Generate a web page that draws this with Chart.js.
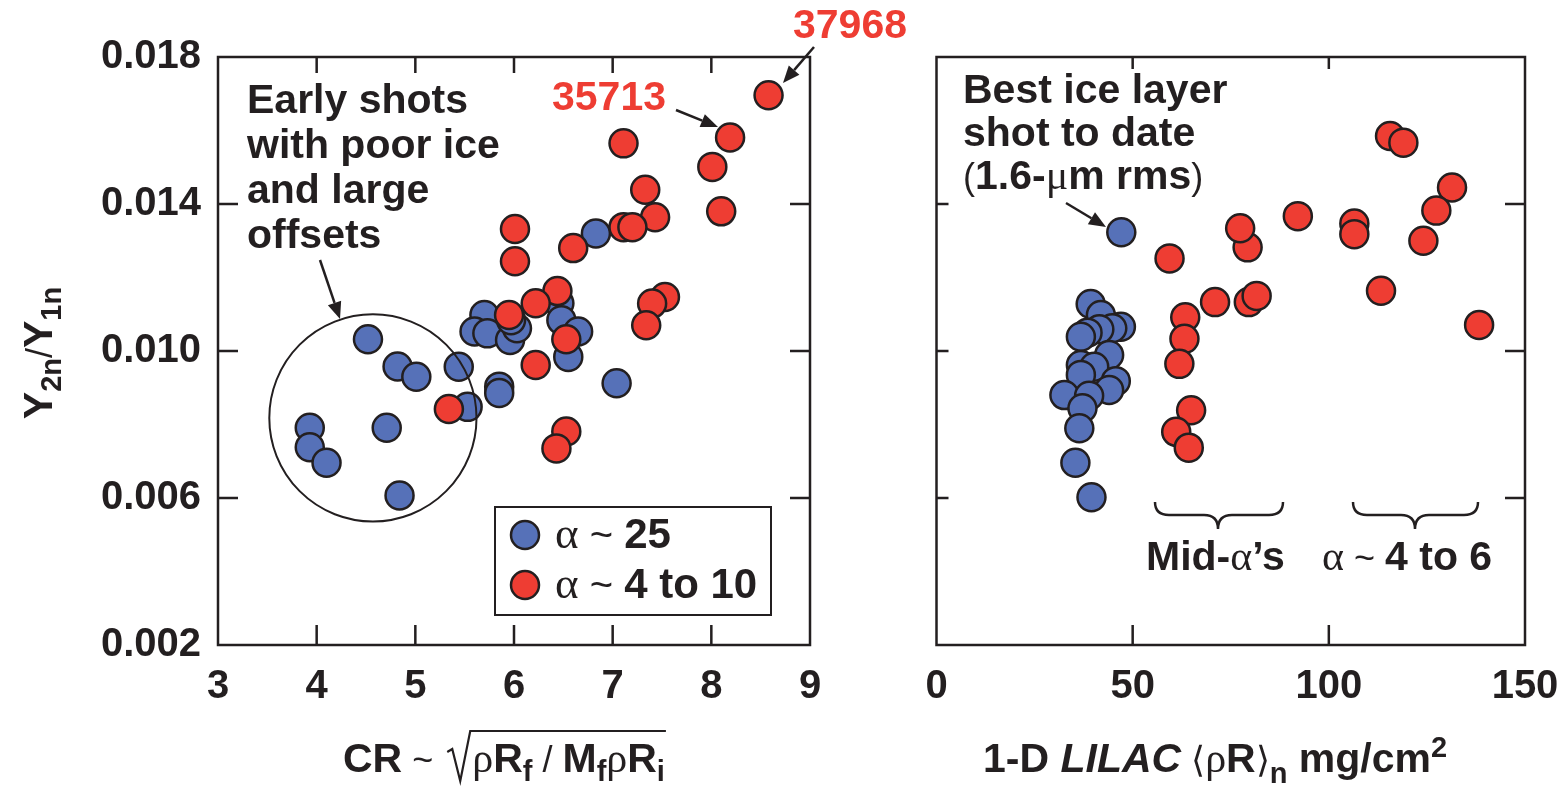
<!DOCTYPE html>
<html lang="en">
<head>
<meta charset="UTF-8">
<title>Y2n/Y1n vs CR and LILAC rhoR</title>
<script src="https://cdn.jsdelivr.net/npm/chart.js"></script>
<style>
  body { margin: 0; background: #fff; width: 1566px; height: 786px; position: relative; overflow: hidden; }
  canvas { position: absolute; top: 0; }
  #left { left: 0; }
  #right { left: 920px; }
</style>
</head>
<body>
<canvas id="left" width="920" height="786"></canvas>
<canvas id="right" width="646" height="786"></canvas>
<script>
/*** DATA ***/
// left panel: convergence ratio
const crBlue = [4.52, 4.82, 5.01, 5.44, 3.93, 3.93, 4.10, 4.71, 4.84, 5.53, 5.85, 5.85, 7.04,
                5.70, 5.60, 5.73, 5.96, 6.03, 5.97, 6.46, 6.48, 6.65, 6.55, 6.83];
const ratioBlueL = [0.01032, 0.00958, 0.00930, 0.00957, 0.00791, 0.00738, 0.00696, 0.00791, 0.00607, 0.00848, 0.00903, 0.00886, 0.00912,
                    0.01098, 0.01053, 0.01048, 0.01030, 0.01062, 0.01084, 0.01130, 0.01084, 0.01053, 0.00984, 0.01320];
const crRed = [8.58, 8.19, 7.11, 8.01, 7.33, 8.10, 7.43, 7.11, 7.20, 6.60, 6.01, 6.01,
               6.44, 6.22, 7.53, 7.40, 7.34, 5.95, 5.34, 6.22, 6.53, 6.53, 6.43];
const ratioRedL = [0.01696, 0.01581, 0.01565, 0.01501, 0.01439, 0.01380, 0.01364, 0.01337, 0.01337, 0.01280, 0.01332, 0.01244,
                   0.01163, 0.01130, 0.01147, 0.01129, 0.01070, 0.01098, 0.00842, 0.00962, 0.01032, 0.00781, 0.00735];

// right panel: 1-D LILAC areal density
const rhoRBlue = [47.1, 39.3, 41.9, 47.0, 44.8, 41.5, 38.5, 36.8, 44.0, 36.8, 40.2, 36.8, 45.7, 44.0, 32.6, 38.9, 37.2, 36.4, 35.4, 39.5];
const ratioBlueR = [0.01323, 0.01128, 0.01098, 0.01066, 0.01062, 0.01059, 0.01050, 0.01039, 0.00989, 0.00962, 0.00957, 0.00935,
                    0.00918, 0.00894, 0.00880, 0.00878, 0.00844, 0.00790, 0.00696, 0.00602];
const rhoRRed = [115.6, 119.0, 131.4, 127.4, 124.1, 106.5, 106.5, 92.1, 79.3, 77.4, 59.4, 71.0, 79.6, 81.6,
                 113.3, 138.3, 63.4, 63.2, 61.9, 64.9, 61.1, 64.3];
const ratioRedR = [0.01585, 0.01567, 0.01445, 0.01382, 0.01300, 0.01347, 0.01318, 0.01367, 0.01282, 0.01334, 0.01252, 0.01133, 0.01133, 0.01150,
                   0.01164, 0.01071, 0.01092, 0.01033, 0.00965, 0.00839, 0.00780, 0.00737];

// ticks
const xTicksLeft = [3, 4, 5, 6, 7, 8, 9];
const xTicksRight = [0, 50, 100, 150];
const yTicks = [0.002, 0.006, 0.010, 0.014, 0.018];

/*** STYLE ***/
const INK = '#231f20';
const BLUE = '#5671b8';
const RED = '#ee3d33';
const SANS = '"Liberation Sans", Arial, sans-serif';
const SERIF = '"Liberation Serif", "DejaVu Serif", serif';
const B = 'bold 41px ' + SANS;
const R = '36px ' + SANS;
const G = '42px ' + SERIF;
const SUB = 'bold 29px ' + SANS;

/*** HELPERS ***/
function richWidth(ctx, segs) {
  let w = 0;
  for (const s of segs) { ctx.font = s[1]; w += ctx.measureText(s[0]).width; }
  return w;
}
function drawRich(ctx, x, y, segs, color) {
  let cx = x;
  ctx.textBaseline = 'alphabetic';
  ctx.textAlign = 'left';
  for (const s of segs) {
    ctx.font = s[1];
    ctx.fillStyle = color || INK;
    ctx.fillText(s[0], cx, y + (s[2] || 0));
    cx += ctx.measureText(s[0]).width;
  }
  return cx;
}
function arrow(ctx, x1, y1, x2, y2) {
  const a = Math.atan2(y2 - y1, x2 - x1), L = 17, W = 7;
  ctx.strokeStyle = INK; ctx.fillStyle = INK; ctx.lineWidth = 2.5;
  ctx.beginPath(); ctx.moveTo(x1, y1); ctx.lineTo(x2 - L * Math.cos(a), y2 - L * Math.sin(a)); ctx.stroke();
  ctx.beginPath();
  ctx.moveTo(x2, y2);
  ctx.lineTo(x2 - L * Math.cos(a) + W * Math.sin(a), y2 - L * Math.sin(a) - W * Math.cos(a));
  ctx.lineTo(x2 - L * Math.cos(a) - W * Math.sin(a), y2 - L * Math.sin(a) + W * Math.cos(a));
  ctx.closePath(); ctx.fill();
}
function brace(ctx, x1, x2, tipX, yTop, yMid, yTip) {
  ctx.strokeStyle = INK; ctx.lineWidth = 2.5;
  ctx.beginPath();
  ctx.moveTo(x1, yTop); ctx.quadraticCurveTo(x1, yMid, x1 + 14, yMid);
  ctx.lineTo(tipX - 14, yMid); ctx.quadraticCurveTo(tipX, yMid, tipX, yTip);
  ctx.moveTo(x2, yTop); ctx.quadraticCurveTo(x2, yMid, x2 - 14, yMid);
  ctx.lineTo(tipX + 14, yMid); ctx.quadraticCurveTo(tipX, yMid, tipX, yTip);
  ctx.stroke();
}
// frame with inward ticks
function frame(chart, xt, tl) {
  const { ctx, chartArea: a, scales } = chart;
  ctx.save();
  ctx.strokeStyle = INK; ctx.lineWidth = 2.5;
  ctx.strokeRect(a.left, a.top, a.right - a.left, a.bottom - a.top);
  ctx.beginPath();
  xt.slice(1, -1).forEach(v => {
    const px = scales.x.getPixelForValue(v);
    ctx.moveTo(px, a.bottom); ctx.lineTo(px, a.bottom - tl.bottom);
    ctx.moveTo(px, a.top); ctx.lineTo(px, a.top + tl.top);
  });
  yTicks.slice(1, -1).forEach(v => {
    const py = scales.y.getPixelForValue(v);
    ctx.moveTo(a.left, py); ctx.lineTo(a.left + tl.left, py);
    ctx.moveTo(a.right, py); ctx.lineTo(a.right - tl.right, py);
  });
  ctx.stroke();
  ctx.restore();
}

function pts(xs, ys) { return xs.map((x, i) => ({ x: x, y: ys[i] })); }
function dataset(label, xs, ys, color) {
  return {
    label: label, data: pts(xs, ys),
    backgroundColor: color, borderColor: INK, borderWidth: 2.5,
    pointRadius: 14, pointHoverRadius: 14
  };
}
function baseOptions(xt, xmin, xmax, showY, padding) {
  return {
    responsive: false, animation: false,
    layout: { padding: padding },
    plugins: { legend: { display: false }, tooltip: { enabled: false } },
    scales: {
      x: {
        type: 'linear', min: xmin, max: xmax,
        afterBuildTicks: s => { s.ticks = xt.map(v => ({ value: v })); },
        afterFit: s => { s.height = 141; s.paddingLeft = 0; s.paddingRight = 0; },
        grid: { display: false }, border: { display: false },
        ticks: { font: { family: SANS, size: 40, weight: 'bold' }, color: INK, padding: 10, maxRotation: 0 }
      },
      y: {
        type: 'linear', min: 0.002, max: 0.018, display: showY,
        afterBuildTicks: s => { s.ticks = yTicks.map(v => ({ value: v })); },
        afterFit: s => { s.width = showY ? 218 : 0; },
        grid: { display: false }, border: { display: false },
        ticks: { font: { family: SANS, size: 40, weight: 'bold' }, color: INK, padding: 9, callback: v => v.toFixed(3) }
      }
    }
  };
}

/*** LEFT PANEL ***/
const leftDecor = {
  id: 'leftDecor',
  afterDraw(chart) {
    const ctx = chart.ctx, sx = chart.scales.x, sy = chart.scales.y;
    frame(chart, xTicksLeft, { top: 16, bottom: 20, left: 20, right: 20 });
    ctx.save();

    // y-axis title
    ctx.save();
    ctx.translate(52, 353);
    ctx.rotate(-Math.PI / 2);
    const yTitle = [['Y', B], ['2n', SUB, 9], ['/', R], ['Y', B], ['1n', SUB, 9]];
    drawRich(ctx, -richWidth(ctx, yTitle) / 2, 0, yTitle);
    ctx.restore();

    // x-axis title with square root
    let x = drawRich(ctx, 343, 772, [['CR', B], [' ~ ', R]]);
    const rootStart = x + 4;
    const inner = [['ρ', G], ['R', B], ['f', SUB, 9], [' / ', R], ['M', B], ['f', SUB, 9], ['ρ', G], ['R', B], ['i', SUB, 9]];
    const innerW = richWidth(ctx, inner);
    ctx.strokeStyle = INK; ctx.lineWidth = 2.2;
    ctx.beginPath();
    ctx.moveTo(rootStart, 752); ctx.lineTo(rootStart + 5, 749);
    ctx.lineTo(rootStart + 13, 781); ctx.lineTo(rootStart + 23, 731);
    ctx.lineTo(rootStart + 26 + innerW, 731);
    ctx.stroke();
    drawRich(ctx, rootStart + 25, 772, inner);

    // circled early shots
    const cx = sx.getPixelForValue(4.57), cy = sy.getPixelForValue(0.00818);
    const rx = sx.getPixelForValue(5.62) - cx;
    ctx.strokeStyle = INK; ctx.lineWidth = 2;
    ctx.beginPath(); ctx.ellipse(cx, cy, rx, rx, 0, 0, Math.PI * 2); ctx.stroke();

    // annotation texts
    ['Early shots', 'with poor ice', 'and large', 'offsets'].forEach((t, i) => {
      drawRich(ctx, 247, 113 + i * 45, [[t, B]]);
    });
    arrow(ctx, 320, 260, 340, 319);

    drawRich(ctx, 552, 110, [['35713', B]], RED);
    arrow(ctx, 676, 110, 718, 127);
    drawRich(ctx, 793, 38, [['37968', B]], RED);
    arrow(ctx, 814, 47, 783, 83);

    // legend
    ctx.fillStyle = '#fff';
    ctx.fillRect(495, 507, 276, 108);
    ctx.strokeStyle = INK; ctx.lineWidth = 2;
    ctx.strokeRect(495, 507, 276, 108);
    [[BLUE, 535, '25'], [RED, 585, '4 to 10']].forEach(([c, y, t]) => {
      ctx.beginPath(); ctx.arc(525, y, 14, 0, Math.PI * 2);
      ctx.fillStyle = c; ctx.fill();
      ctx.lineWidth = 2.5; ctx.strokeStyle = INK; ctx.stroke();
      drawRich(ctx, 555, y + 13, [['α', '45px ' + SERIF], [' ~ ', '40px ' + SANS], [t, 'bold 42px ' + SANS]]);
    });
    ctx.restore();
  }
};

new Chart(document.getElementById('left'), {
  type: 'scatter',
  data: { datasets: [dataset('α ~ 4 to 10', crRed, ratioRedL, RED), dataset('α ~ 25', crBlue, ratioBlueL, BLUE)] },
  options: baseOptions(xTicksLeft, 3, 9, true, { top: 57, right: 110, left: 0, bottom: 0 }),
  plugins: [leftDecor]
});

/*** RIGHT PANEL ***/
const OFF = 920;
const rightDecor = {
  id: 'rightDecor',
  afterDraw(chart) {
    const ctx = chart.ctx;
    frame(chart, xTicksRight, { top: 12, bottom: 20, left: 12, right: 20 });
    ctx.save();
    ctx.translate(-OFF, 0);

    // x-axis title
    drawRich(ctx, 983, 772, [
      ['1-D ', B], ['LILAC', 'italic ' + B], [' ⟨', R], ['ρ', G], ['R', B], ['⟩', R],
      ['n', SUB, 11], [' mg/cm', B], ['2', SUB, -15]
    ]);

    // best shot note
    ['Best ice layer', 'shot to date'].forEach((t, i) => drawRich(ctx, 963, 103 + i * 43, [[t, B]]));
    drawRich(ctx, 963, 189, [['(', R], ['1.6-', B], ['μ', G], ['m rms', B], [')', R]]);
    arrow(ctx, 1066, 203, 1106, 227);

    // braces and group labels
    brace(ctx, 1155, 1283, 1218, 502, 515, 529);
    brace(ctx, 1353, 1478, 1415, 502, 515, 529);
    drawRich(ctx, 1146, 570, [['Mid-', B], ['α', G], ['’s', B]]);
    drawRich(ctx, 1322, 570, [['α', G], [' ~ ', R], ['4 to 6', B]]);
    ctx.restore();
  }
};

new Chart(document.getElementById('right'), {
  type: 'scatter',
  data: { datasets: [dataset('α ~ 4 to 10', rhoRRed, ratioRedR, RED), dataset('α ~ 25', rhoRBlue, ratioBlueR, BLUE)] },
  options: baseOptions(xTicksRight, 0, 150, false, { top: 57, right: 41, left: 13, bottom: 0 }),
  plugins: [rightDecor]
});
</script>
</body>
</html>
